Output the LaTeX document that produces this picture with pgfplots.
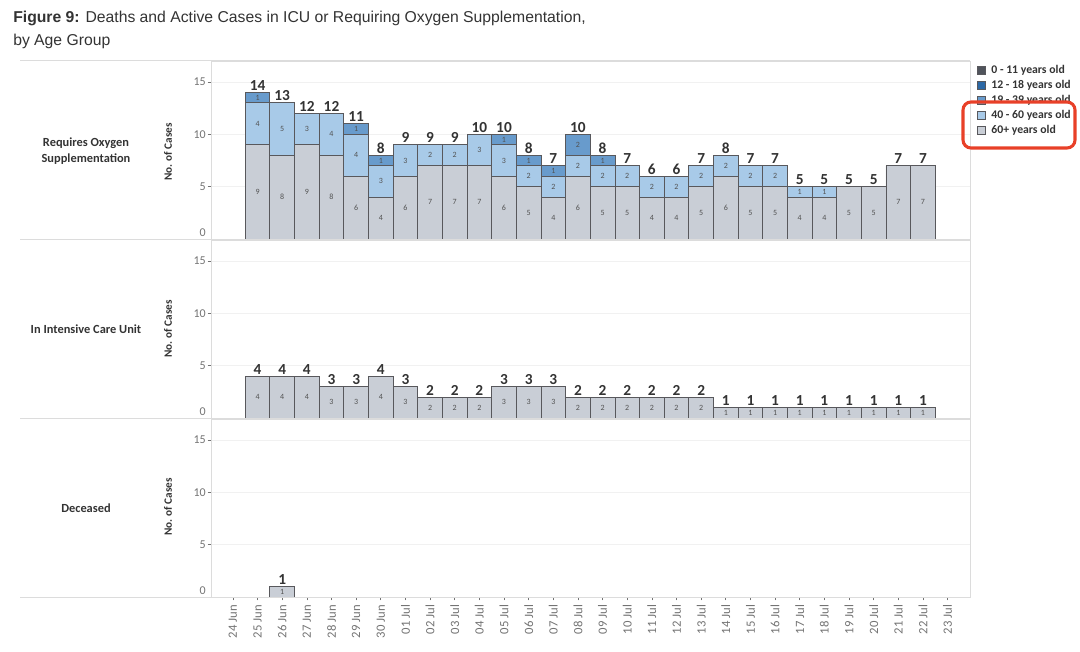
\documentclass[border=0pt]{standalone}
\usepackage{pgfplots}
\pgfplotsset{compat=1.18}
\usepackage{fontspec}
\setmainfont{Liberation Sans}
\newfontfamily\tab{Carlito}
\definecolor{c60}{RGB}{201,206,214}
\definecolor{c4060}{RGB}{168,202,232}
\definecolor{c1939}{RGB}{104,155,204}
\definecolor{c1218}{RGB}{44,104,165}
\definecolor{c011}{RGB}{80,84,92}
\definecolor{edge}{RGB}{88,88,92}
\definecolor{framec}{RGB}{220,220,220}
\definecolor{gridc}{RGB}{241,241,241}
\definecolor{tickt}{RGB}{115,115,115}
\definecolor{txt}{RGB}{51,51,51}
\definecolor{redbox}{RGB}{232,64,40}

\pgfplotsset{
  panel/.style={
    scale only axis, width=569.25pt, height=133.5pt,
    anchor=south west,
    xmin=-0.89, xmax=29.91, ymin=0, ymax=17,
    axis line style={draw=framec},
    ytick={0,5,10,15},
    ytick pos=left, xtick pos=bottom,
    ymajorgrids, grid style={draw=gridc, line width=0.6pt},
    tick align=outside, major tick length=2.5pt,
    tick style={draw=tickt, line width=0.5pt},
    /pgf/number format/assume math mode=true,
    yticklabel={\ifnum\ticknum=0 \raisebox{10pt}{\pgfmathprintnumber{\tick}}\else\pgfmathprintnumber{\tick}\fi},
    yticklabel style={font=\tab\fontsize{9}{10}\selectfont, text=tickt, inner sep=1.2pt},
    xtick=\empty,
    clip=false,
  },
  sqlegend/.style={legend image code/.code={\draw[##1, draw=edge, line width=0.5pt] (0pt,-2.9pt) rectangle (5.8pt,2.9pt);}},
  bars/.style={ybar, bar width=1, bar shift=0pt, draw=edge, line width=0.6pt, fill=#1, sqlegend},
  seglab/.style={forget plot, draw=none, mark=none, nodes near coords, point meta=explicit symbolic,
    nodes near coords align={center},
    every node near coord/.append style={font=\tab\fontsize{6}{7}\selectfont, text=txt!85, inner sep=0pt}},
  totlab/.style={forget plot, draw=none, mark=none, nodes near coords, point meta=explicit symbolic,
    every node near coord/.append style={font=\tab\bfseries\fontsize{11.5}{13}\selectfont, text=txt, inner sep=1.2pt, anchor=south}},
}

\begin{document}
\begin{tikzpicture}
\useasboundingbox (0pt,0pt) rectangle (810pt,-489pt);

% ---------- Requires Oxygen Supplementation ----------
\begin{axis}[panel, at={(158.25pt,-179.25pt)},
  legend cell align=left,
  legend style={at={(1.004,1)}, anchor=north west, draw=none, fill=none,
    font=\tab\bfseries\fontsize{8.8}{10}\selectfont, text=txt,
    nodes={inner sep=0.8pt, text height=6.5pt, text depth=1.6pt}, row sep=1.6pt,
    /tikz/every odd column/.append style={column sep=3.5pt}},
  legend entries={0 - 11 years old, 12 - 18 years old, 19 - 39 years old, 40 - 60 years old, 60+ years old}]
\addlegendimage{sqlegend, fill=c011}
\addlegendimage{sqlegend, fill=c1218}
\addplot[bars=c1939] coordinates {(1,14)(5,11)(6,8)(11,10)(12,8)(13,7)(14,10)(15,8)};
\addplot[bars=c4060] coordinates {(1,13)(2,13)(3,12)(4,12)(5,10)(6,7)(7,9)(8,9)(9,9)(10,10)(11,9)(12,7)(13,6)(14,8)(15,7)(16,7)(17,6)(18,6)(19,7)(20,8)(21,7)(22,7)(23,5)(24,5)};
\addplot[bars=c60] coordinates {(1,9)(2,8)(3,9)(4,8)(5,6)(6,4)(7,6)(8,7)(9,7)(10,7)(11,6)(12,5)(13,4)(14,6)(15,5)(16,5)(17,4)(18,4)(19,5)(20,6)(21,5)(22,5)(23,4)(24,4)(25,5)(26,5)(27,7)(28,7)};
\addplot[seglab] coordinates {(1,4.5)[9](2,4)[8](3,4.5)[9](4,4)[8](5,3)[6](6,2)[4](7,3)[6](8,3.5)[7](9,3.5)[7](10,3.5)[7](11,3)[6](12,2.5)[5](13,2)[4](14,3)[6](15,2.5)[5](16,2.5)[5](17,2)[4](18,2)[4](19,2.5)[5](20,3)[6](21,2.5)[5](22,2.5)[5](23,2)[4](24,2)[4](25,2.5)[5](26,2.5)[5](27,3.5)[7](28,3.5)[7]};
\addplot[seglab] coordinates {(1,11)[4](2,10.5)[5](3,10.5)[3](4,10)[4](5,8)[4](6,5.5)[3](7,7.5)[3](8,8)[2](9,8)[2](10,8.5)[3](11,7.5)[3](12,6)[2](13,5)[2](14,7)[2](15,6)[2](16,6)[2](17,5)[2](18,5)[2](19,6)[2](20,7)[2](21,6)[2](22,6)[2](23,4.5)[1](24,4.5)[1]};
\addplot[seglab] coordinates {(1,13.5)[1](5,10.5)[1](6,7.5)[1](11,9.5)[1](12,7.5)[1](13,6.5)[1](14,9)[2](15,7.5)[1]};
\addplot[totlab] coordinates {(1,14)[14](2,13)[13](3,12)[12](4,12)[12](5,11)[11](6,8)[8](7,9)[9](8,9)[9](9,9)[9](10,10)[10](11,10)[10](12,8)[8](13,7)[7](14,10)[10](15,8)[8](16,7)[7](17,6)[6](18,6)[6](19,7)[7](20,8)[8](21,7)[7](22,7)[7](23,5)[5](24,5)[5](25,5)[5](26,5)[5](27,7)[7](28,7)[7]};
\end{axis}

% ---------- In Intensive Care Unit ----------
\begin{axis}[panel, at={(158.25pt,-313.5pt)}]
\addplot[bars=c60] coordinates {(1,4)(2,4)(3,4)(4,3)(5,3)(6,4)(7,3)(8,2)(9,2)(10,2)(11,3)(12,3)(13,3)(14,2)(15,2)(16,2)(17,2)(18,2)(19,2)(20,1)(21,1)(22,1)(23,1)(24,1)(25,1)(26,1)(27,1)(28,1)};
\addplot[seglab] coordinates {(1,2)[4](2,2)[4](3,2)[4](4,1.5)[3](5,1.5)[3](6,2)[4](7,1.5)[3](8,1)[2](9,1)[2](10,1)[2](11,1.5)[3](12,1.5)[3](13,1.5)[3](14,1)[2](15,1)[2](16,1)[2](17,1)[2](18,1)[2](19,1)[2](20,0.5)[1](21,0.5)[1](22,0.5)[1](23,0.5)[1](24,0.5)[1](25,0.5)[1](26,0.5)[1](27,0.5)[1](28,0.5)[1]};
\addplot[totlab] coordinates {(1,4)[4](2,4)[4](3,4)[4](4,3)[3](5,3)[3](6,4)[4](7,3)[3](8,2)[2](9,2)[2](10,2)[2](11,3)[3](12,3)[3](13,3)[3](14,2)[2](15,2)[2](16,2)[2](17,2)[2](18,2)[2](19,2)[2](20,1)[1](21,1)[1](22,1)[1](23,1)[1](24,1)[1](25,1)[1](26,1)[1](27,1)[1](28,1)[1]};
\end{axis}

% ---------- Deceased ----------
\begin{axis}[panel, at={(158.25pt,-447.75pt)},
  xtick={0,...,29},
  xticklabels={24 Jun,25 Jun,26 Jun,27 Jun,28 Jun,29 Jun,30 Jun,01 Jul,02 Jul,03 Jul,04 Jul,05 Jul,06 Jul,07 Jul,08 Jul,09 Jul,10 Jul,11 Jul,12 Jul,13 Jul,14 Jul,15 Jul,16 Jul,17 Jul,18 Jul,19 Jul,20 Jul,21 Jul,22 Jul,23 Jul},
  xticklabel style={rotate=90, anchor=east, font=\tab\fontsize{9.5}{10}\selectfont, text=tickt}]
\addplot[bars=c60] coordinates {(2,1)};
\addplot[seglab] coordinates {(2,0.5)[1]};
\addplot[totlab] coordinates {(2,1)[1]};
\end{axis}

\begin{scope}[x=0.75pt, y=-0.75pt]
\foreach \yy in {61,239.5,418.5,597}{\draw[framec, line width=0.75pt] (20,\yy) -- (970,\yy);}
\node[anchor=north west, align=left, inner sep=0pt, text=txt, font=\fontsize{11.8}{17.3}\selectfont] at (13,11)
  {\textbf{Figure 9:} Deaths and Active Cases in ICU or Requiring Oxygen Supplementation,\\ by Age Group};
\node[align=center, font=\tab\bfseries\fontsize{9.3}{12.5}\selectfont, text=txt] at (86,151) {Requires Oxygen\\Supplementation};
\node[font=\tab\bfseries\fontsize{9.3}{10}\selectfont, text=txt] at (86,329) {In Intensive Care Unit};
\node[font=\tab\bfseries\fontsize{9.3}{10}\selectfont, text=txt] at (86,508) {Deceased};
\foreach \yy in {152,329,507}{\node[rotate=90, font=\tab\bfseries\fontsize{8.4}{10}\selectfont, text=txt] at (168,\yy) {No. of Cases};}
\draw[redbox, line width=2.3pt, rounded corners=6pt] (963,102) rectangle (1075,148);
\end{scope}
\end{tikzpicture}
\end{document}
